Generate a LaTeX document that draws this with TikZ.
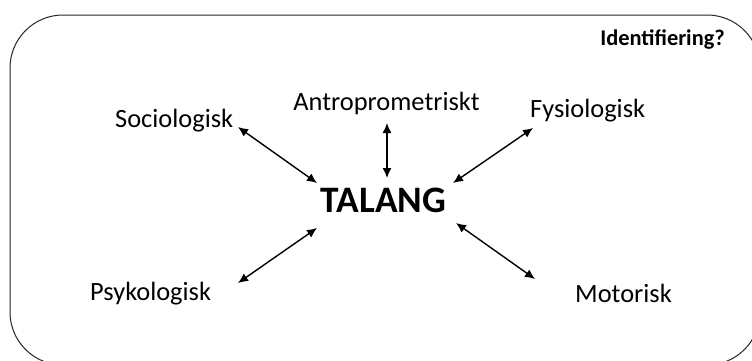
\documentclass[tikz,border=0pt]{standalone}
\usepackage{fontspec}
\setmainfont{Carlito}
\usetikzlibrary{arrows.meta}
\begin{document}
\begin{tikzpicture}[x=1bp,y=-1bp,
  lbl/.style={inner sep=0pt,font=\fontsize{26.5}{30}\selectfont},
  conn/.style={line width=1.4bp,{Latex[length=10bp,width=9bp]}-{Latex[length=10bp,width=9bp]}}]
\useasboundingbox (0,0) rectangle (752,360);
\clip (0,0) rectangle (752,360);
\fill[white] (0,0) rectangle (752,360);
\draw[line width=1bp,black!85,rounded corners=53bp] (10,15) rectangle (760,365);
\node[lbl,anchor=base west] (soc) at (115,127) {Sociologisk};
\node[lbl,anchor=base] (ant) at (386.5,110) {Antroprometriskt};
\node[lbl,anchor=base west] (fys) at (530,117) {Fysiologisk};
\node[lbl,anchor=base west] (psy) at (90,300) {Psykologisk};
\node[lbl,anchor=base west] (mot) at (575,302) {Motorisk};
\node[inner sep=0pt,anchor=base,font=\fontsize{37.5}{40}\selectfont\bfseries] (tal) at (383.5,212) {TALANG};
\node[inner sep=0pt,anchor=base east,font=\fontsize{22.5}{26}\selectfont\bfseries] (idf) at (725,45) {Identifiering?};
\coordinate (s1) at (238,127); \coordinate (s2) at (317,183);
\coordinate (a1) at (387,123); \coordinate (a2) at (387,178);
\coordinate (f1) at (533,128); \coordinate (f2) at (453,183);
\coordinate (p1) at (238,283); \coordinate (p2) at (317,228);
\coordinate (m1) at (535,279); \coordinate (m2) at (456,223);
\draw[conn] (s1) -- (s2);
\draw[conn] (a1) -- (a2);
\draw[conn] (f1) -- (f2);
\draw[conn] (p1) -- (p2);
\draw[conn] (m1) -- (m2);
\end{tikzpicture}
\end{document}
